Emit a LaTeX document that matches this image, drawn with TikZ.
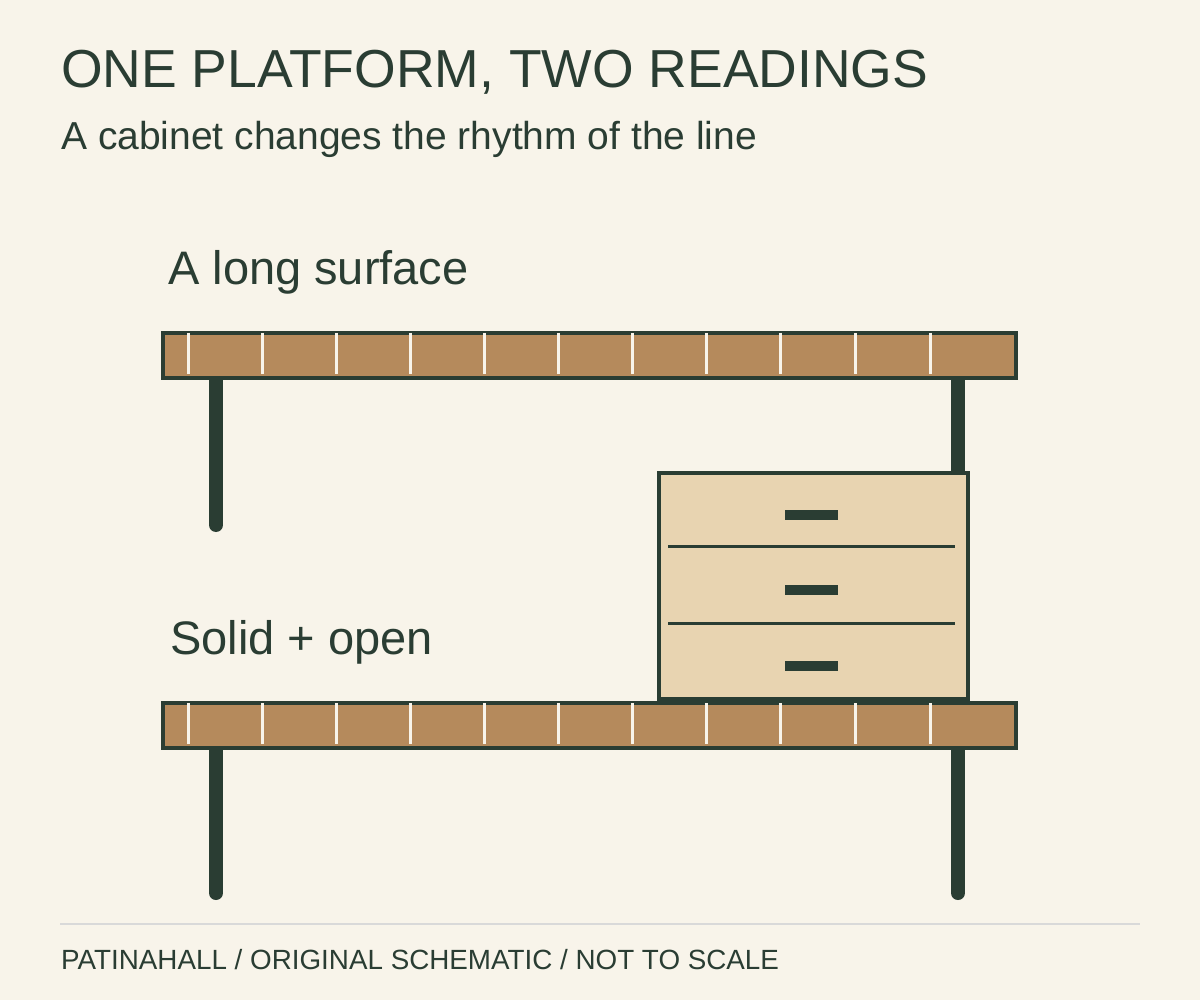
\documentclass[tikz,border=0pt]{standalone}
\usepackage{fontspec}
\setmainfont{Liberation Sans}
\begin{document}
\definecolor{bg}{HTML}{F8F4EA}
\definecolor{ink}{HTML}{2A3D33}
\definecolor{wood}{HTML}{B58A5C}
\definecolor{cab}{HTML}{E8D4B1}
\begin{tikzpicture}[x=1pt,y=-1pt,
  plank/.style={fill=wood,draw=ink,line width=4pt},
  tick/.style={draw=bg,line width=3pt},
  leg/.style={draw=ink,line width=14pt,line cap=round},
  txt/.style={anchor=base west,inner sep=0pt,text=ink}]
\useasboundingbox[fill=bg] (0,0) rectangle (1200,1000);
\node[txt,font=\fontsize{53.5}{58}\selectfont] (title) at (61,88) {ONE PLATFORM, TWO READINGS};
\node[txt,font=\fontsize{39}{42}\selectfont] (sub) at (61,150) {A cabinet changes the rhythm of the line};
\node[txt,font=\fontsize{47}{50}\selectfont] (l1) at (168,285) {A long surface};
\node[txt,font=\fontsize{47}{50}\selectfont] (l2) at (170,654) {Solid + open};
% top
\coordinate (a1) at (216,376); \coordinate (a2) at (216,525);
\coordinate (b1) at (958,376); \coordinate (b2) at (958,472);
\draw[leg] (a1) -- (a2); \draw[leg] (b1) -- (b2);
\node[plank,draw,minimum width=853,minimum height=45,anchor=north west,inner sep=0] (p1) at (161,331) {};
\foreach \x in {188,262,336,410,484,558,632,706,780,855,930}
  \draw[tick] (\x,333) -- (\x,374);
% bottom
\coordinate (c1) at (216,746); \coordinate (c2) at (216,893);
\coordinate (d1) at (958,746); \coordinate (d2) at (958,893);
\draw[leg] (c1) -- (c2); \draw[leg] (d1) -- (d2);
\node[plank,draw,minimum width=853,minimum height=45,anchor=north west,inner sep=0] (p2) at (161,701) {};
\foreach \x in {188,262,336,410,484,558,632,706,780,855,930}
  \draw[tick] (\x,703) -- (\x,744);
% cabinet
\node[fill=cab,draw=ink,line width=4pt,minimum width=309,minimum height=226,anchor=north west,inner sep=0] (cabinet) at (657,471) {};
\draw[ink,line width=3pt] (668,546) -- (955,546);
\draw[ink,line width=3pt] (668,623) -- (955,623);
\foreach \y in {515,590,666} \draw[ink,line width=10pt] (785,\y) -- (838,\y);
% footer
\draw[black!15,line width=1.2pt] (60,924) -- (1140,924);
\node[txt,font=\fontsize{27.8}{30}\selectfont] (foot) at (61,969) {PATINAHALL / ORIGINAL SCHEMATIC / NOT TO SCALE};
\end{tikzpicture}
\end{document}
